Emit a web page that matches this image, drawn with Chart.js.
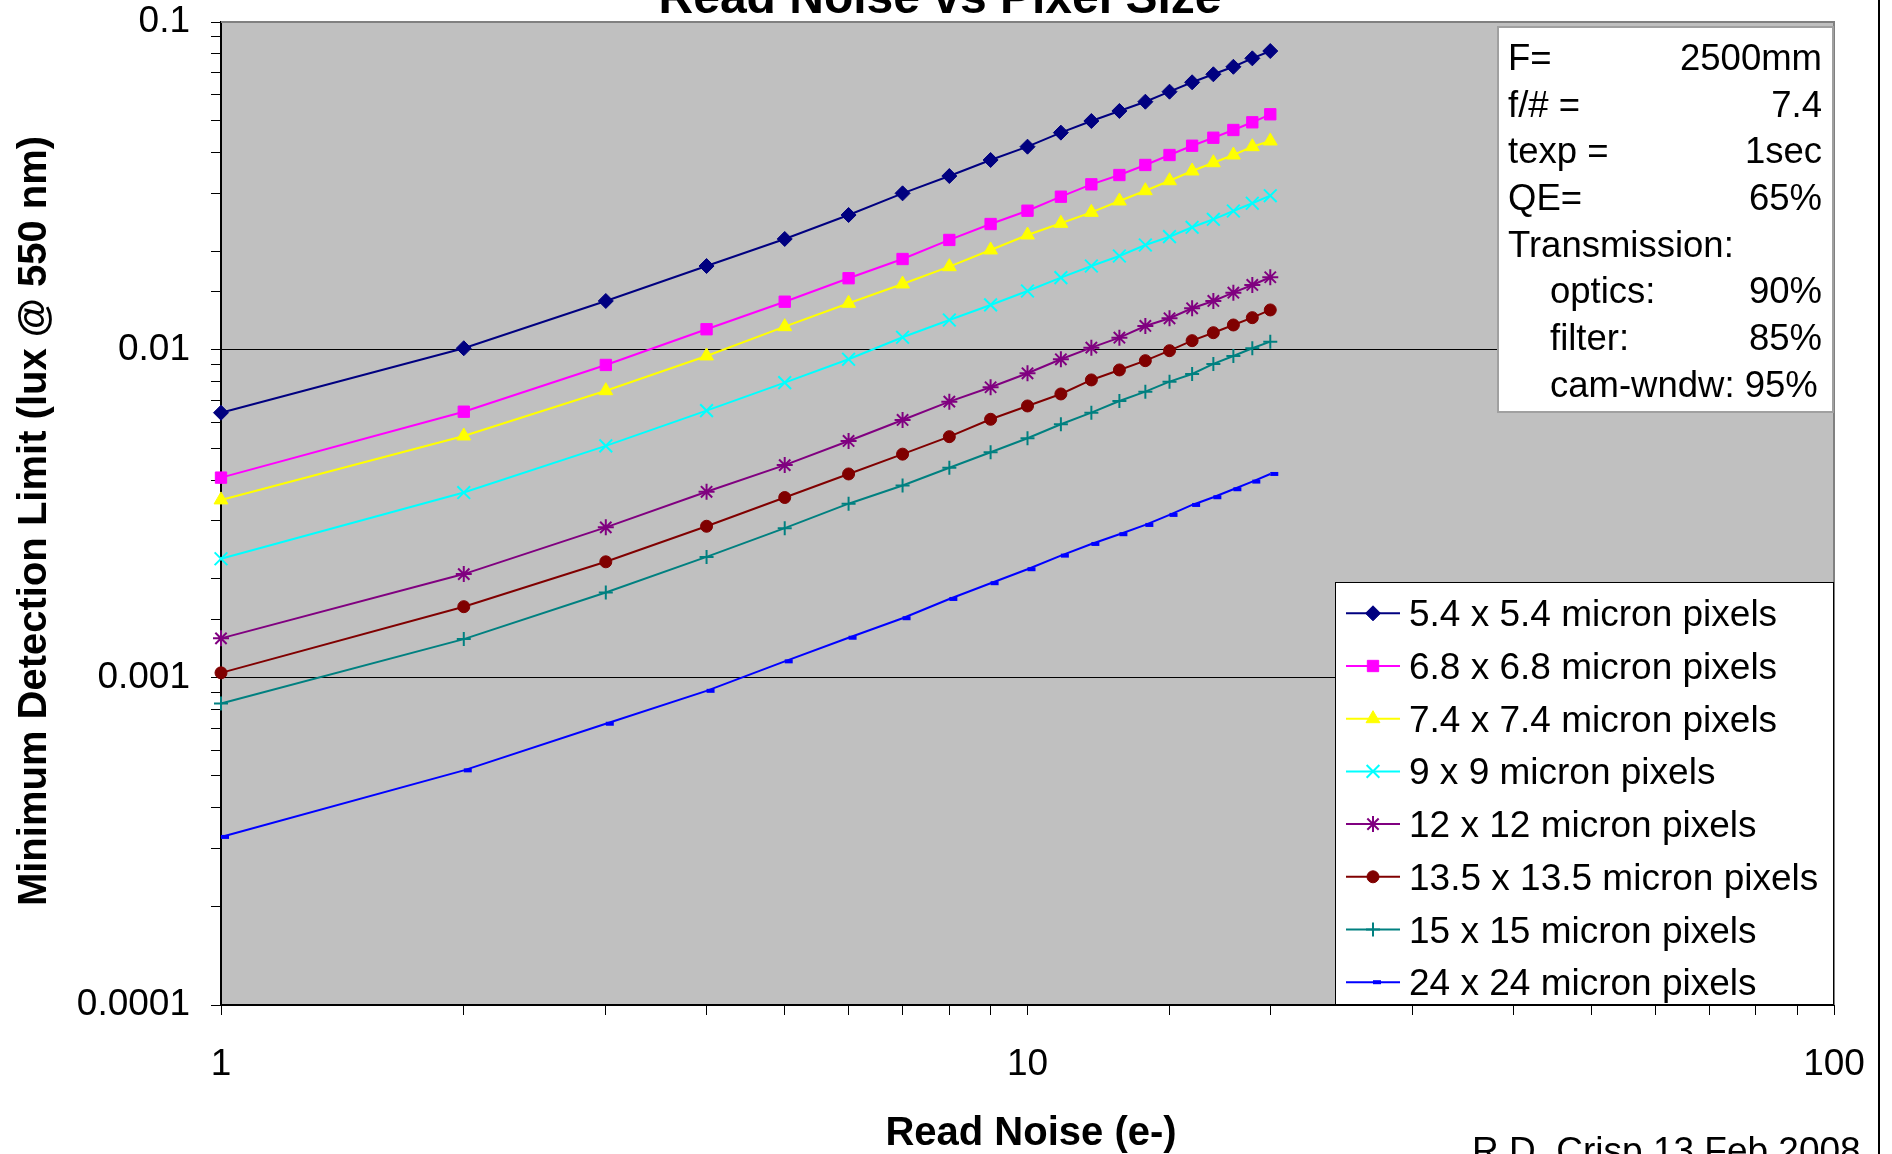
<!DOCTYPE html>
<html><head><meta charset="utf-8">
<style>html,body{margin:0;padding:0;background:#fff;overflow:hidden}canvas{display:block}</style>
<script src="https://cdn.jsdelivr.net/npm/chart.js@4.4.1/dist/chart.umd.min.js"></script>
</head><body>
<canvas id="c" width="1892" height="1154"></canvas>
<script>
// ---- data ----
const readNoise = [1,2,3,4,5,6,7,8,9,10,11,12,13,14,15,16,17,18,19,20];
const seriesLabels = ['5.4 x 5.4 micron pixels','6.8 x 6.8 micron pixels','7.4 x 7.4 micron pixels','9 x 9 micron pixels','12 x 12 micron pixels','13.5 x 13.5 micron pixels','15 x 15 micron pixels','24 x 24 micron pixels'];
const px54 = [0.00642,0.0101,0.01408,0.0180,0.02177,0.02576,0.0300,0.03388,0.03792,0.04164,0.04596,0.04987,0.05351,0.05711,0.06128,0.06546,0.06925,0.0730,0.07746,0.08155];
const px68 = [0.004069,0.006467,0.008982,0.011542,0.014009,0.016519,0.01891,0.02162,0.02418,0.02655,0.0293,0.03196,0.03412,0.03662,0.03927,0.04192,0.04434,0.04682,0.04942,0.05228];
const px74 = [0.003479,0.005453,0.007496,0.009568,0.011754,0.013854,0.015867,0.017916,0.020151,0.022387,0.0243,0.02625,0.02843,0.03056,0.03278,0.0351,0.0372,0.03927,0.04164,0.04334];
const px9 = [0.002301,0.003664,0.005086,0.006514,0.00793,0.009348,0.01091,0.01232,0.013693,0.015105,0.016588,0.018004,0.019313,0.02087,0.02212,0.023631,0.024995,0.0265,0.02798,0.029505];
const px12 = [0.001315,0.002066,0.002869,0.003684,0.004443,0.005264,0.006102,0.006939,0.007679,0.008472,0.009348,0.010141,0.010879,0.011811,0.012468,0.013374,0.014082,0.014925,0.015758,0.016634];
const px135 = [0.001032,0.001643,0.002252,0.002891,0.003538,0.004175,0.004799,0.005426,0.006131,0.006733,0.007325,0.008084,0.008672,0.009256,0.009929,0.010653,0.011267,0.011894,0.012523,0.01322];
const px15 = [0.000832,0.001308,0.001816,0.002331,0.002853,0.003388,0.003851,0.004363,0.004863,0.005366,0.005922,0.006424,0.006973,0.007443,0.007988,0.00843,0.009046,0.009568,0.010099,0.010578];
const px24 = [0.0003258,0.0005201,0.0007217,0.0009095,0.0011189,0.0013207,0.001515,0.0017346,0.0019376,0.0021377,0.002352,0.002553,0.002734,0.002918,0.003131,0.003358,0.003545,0.00375,0.003957,0.004175];
const yTickLabels = ['0.0001','0.001','0.01','0.1'];
const xTickLabels = ['1','10','100'];
const titleText = 'Read Noise vs Pixel Size';
const xTitle = 'Read Noise (e-)';
const yTitle = 'Minimum Detection Limit (lux @ 550 nm)';
const footnote = 'R.D. Crisp 13 Feb 2008';
const paramRows = [
  ['F=','2500mm',0],['f/# =','7.4',0],['texp =','1sec',0],['QE=','65%',0],
  ['Transmission:','',0],['optics:','90%',1],['filter:','85%',1],['cam-wndw: 95%','',1]
];

// ---- styles ----
const FONT = '"Liberation Sans", Arial, Helvetica, sans-serif';
const styles = [
  {c:'#000080', p:'rectRot', r:7.5, bw:1},
  {c:'#FF00FF', p:'rect', r:8, bw:1},
  {c:'#FFFF00', p:'triangle', r:8, bw:1},
  {c:'#00FFFF', p:'crossRot', r:9, bw:2},
  {c:'#800080', p:'star', r:8, bw:2},
  {c:'#800000', p:'circle', r:6, bw:1},
  {c:'#008080', p:'cross', r:7, bw:2},
  {c:'#0000FF', p:'dash', r:8, bw:4}
];
const seriesData = [px54,px68,px74,px9,px12,px135,px15,px24];

const datasets = seriesData.map((arr,i)=>({
  label: seriesLabels[i],
  data: readNoise.map((x,j)=>({x:x,y:arr[j]})),
  borderColor: styles[i].c,
  backgroundColor: styles[i].c,
  borderWidth: 2,
  pointStyle: styles[i].p,
  pointRadius: styles[i].r,
  pointHoverRadius: styles[i].r,
  pointBorderWidth: styles[i].bw,
  pointBackgroundColor: styles[i].c,
  pointBorderColor: styles[i].c,
  tension: 0,
  clip: false
}));

function isPow10(v){ const l=Math.log10(v); return Math.abs(l-Math.round(l))<1e-6; }

const decor = {
  id:'decor',
  beforeDraw(chart){
    const ctx=chart.ctx, a=chart.chartArea;
    ctx.save();
    ctx.fillStyle='#fff'; ctx.fillRect(0,0,chart.width,chart.height);
    ctx.fillStyle='#C0C0C0'; ctx.fillRect(a.left,a.top,a.right-a.left,a.bottom-a.top);
    ctx.restore();
  },
  afterDraw(chart){
    const ctx=chart.ctx, a=chart.chartArea;
    ctx.save();
    // plot border top/right
    ctx.strokeStyle='#808080'; ctx.lineWidth=2;
    ctx.beginPath(); ctx.moveTo(a.left,a.top); ctx.lineTo(a.right,a.top); ctx.lineTo(a.right,a.bottom); ctx.stroke();
    // chart outer border (right)
    ctx.strokeStyle='#000'; ctx.lineWidth=2;
    ctx.beginPath(); ctx.moveTo(1879,0); ctx.lineTo(1879,1154); ctx.stroke();

    // parameter box
    ctx.fillStyle='#fff'; ctx.fillRect(1498,27,335,385);
    ctx.strokeStyle='#A0A0A0'; ctx.lineWidth=2; ctx.strokeRect(1498,27,335,385);
    ctx.fillStyle='#000'; ctx.font='36.5px '+FONT; ctx.textBaseline='alphabetic';
    paramRows.forEach((r,i)=>{
      const y=70+i*46.67;
      ctx.textAlign='left'; ctx.fillText(r[0], r[2]?1550:1508, y);
      if(r[1]){ ctx.textAlign='right'; ctx.fillText(r[1],1822,y); }
    });

    // legend
    ctx.fillStyle='#fff'; ctx.fillRect(1335,582,498,423);
    ctx.strokeStyle='#000'; ctx.lineWidth=1; ctx.strokeRect(1335.5,582.5,498,422);
    ctx.font='37px '+FONT; ctx.textAlign='left';
    chart.data.datasets.forEach((ds,i)=>{
      const y=613.3+i*52.7;
      ctx.strokeStyle=ds.borderColor; ctx.lineWidth=2;
      ctx.beginPath(); ctx.moveTo(1346,y); ctx.lineTo(1400,y); ctx.stroke();
      if(Chart.helpers && Chart.helpers.drawPoint){
        ctx.fillStyle=ds.pointBackgroundColor; ctx.strokeStyle=ds.pointBorderColor; ctx.lineWidth=ds.pointBorderWidth;
        Chart.helpers.drawPoint(ctx,{pointStyle:ds.pointStyle,rotation:0,radius:ds.pointRadius,borderWidth:ds.pointBorderWidth},1373,y);
      }
      ctx.fillStyle='#000';
      ctx.fillText(ds.label,1409,y+13);
    });

    // titles
    ctx.fillStyle='#000';
    ctx.font='bold 48px '+FONT; ctx.textAlign='center'; ctx.textBaseline='alphabetic';
    ctx.fillText(titleText,940,13);
    ctx.font='bold 40px '+FONT;
    ctx.fillText(xTitle,1031,1145);
    ctx.save(); ctx.translate(46,521); ctx.rotate(-Math.PI/2);
    ctx.fillText(yTitle,0,0); ctx.restore();
    ctx.font='37px '+FONT; ctx.textAlign='left';
    ctx.fillText(footnote,1472,1163);
    ctx.restore();
  }
};

new Chart(document.getElementById('c'),{
  type:'line',
  data:{datasets},
  options:{
    responsive:false, animation:false, devicePixelRatio:1,
    layout:{padding:{top:22,right:58,left:0,bottom:0}, autoPadding:false},
    plugins:{legend:{display:false},title:{display:false},tooltip:{enabled:false}},
    scales:{
      x:{type:'logarithmic',position:'bottom',min:1,max:100,
        afterFit(s){s.height=149; s.paddingLeft=0; s.paddingRight=0;},
        border:{display:true,color:'#000',width:2},
        grid:{drawOnChartArea:false,drawTicks:true,tickLength:10,tickColor:'#000',tickWidth:1,color:'rgba(0,0,0,0)'},
        ticks:{autoSkip:false,maxRotation:0,minRotation:0,padding:28,color:'#000',font:{family:FONT,size:37},
          callback:(v)=> isPow10(v) ? xTickLabels[Math.round(Math.log10(v))] : ''}
      },
      y:{type:'logarithmic',position:'left',min:0.0001,max:0.1,
        afterFit(s){s.width=221; s.paddingTop=0; s.paddingBottom=0;},
        border:{display:true,color:'#000',width:2},
        grid:{drawTicks:true,tickLength:10,tickColor:'#000',tickWidth:1,lineWidth:1,
          color:(c)=>{ if(!c.tick) return 'rgba(0,0,0,0)'; const v=c.tick.value; const l=Math.round(Math.log10(v)); return (isPow10(v) && l>-4 && l<-1) ? '#000' : 'rgba(0,0,0,0)'; }},
        ticks:{autoSkip:false,padding:21,color:'#000',font:{family:FONT,size:37},
          callback:(v)=> isPow10(v) ? yTickLabels[Math.round(Math.log10(v))+4] : ''}
      }
    }
  },
  plugins:[decor]
});
</script>
</body></html>
